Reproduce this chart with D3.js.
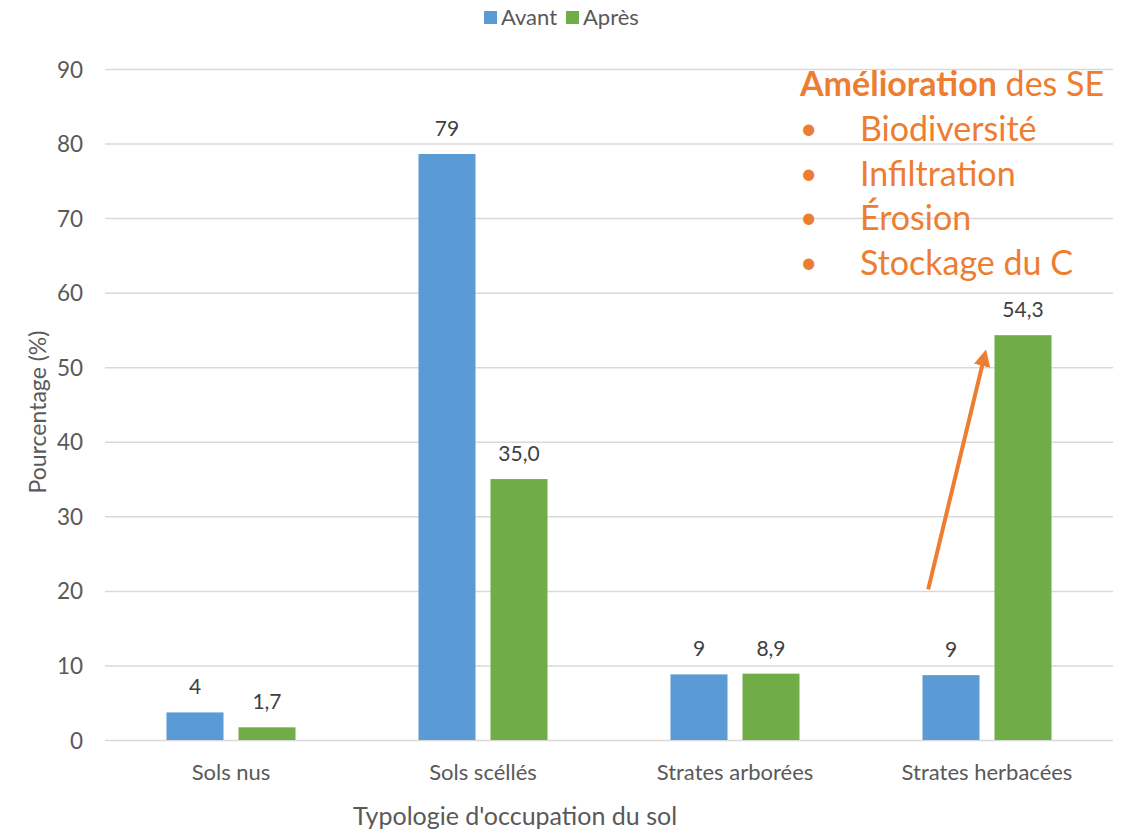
<!DOCTYPE html>
<html>
<head>
<meta charset="utf-8">
<script src="https://cdn.jsdelivr.net/npm/d3@7"></script>
<style>
  html, body { margin: 0; padding: 0; background: #fff; }
  svg { display: block; font-family: Lato, "Open Sans", sans-serif; }
</style>
</head>
<body>
<svg id="chart" width="1130" height="832"></svg>
<script>
const categories = ["Sols nus", "Sols scéllés", "Strates arborées", "Strates herbacées"];
const seriesNames = ["Avant", "Après"];
const avant = [3.7, 78.6, 8.8, 8.7];
const apres = [1.7, 35.0, 8.9, 54.3];
const yTicks = [0, 10, 20, 30, 40, 50, 60, 70, 80, 90];
const colors = ["#5B9BD5", "#70AD47"];
const annotationTitleBold = "Amélioration";
const annotationTitleRest = " des SE";
const annotationItems = ["Biodiversité", "Infiltration", "Érosion", "Stockage du C"];
const arrowFromValue = 20.2;
const arrowToValue = 54.3;

const FONT = 'Lato, "Open Sans", sans-serif';
const svg = d3.select("#chart");
const margin = {left: 105, right: 17, top: 69, bottom: 92};
const W = 1130, H = 832;
const x0 = d3.scaleBand().domain(categories).range([margin.left, W - margin.right]);
const y = d3.scaleLinear().domain([0, 90]).range([H - margin.bottom, margin.top]);
const bw = x0.bandwidth();
const innerW = 129;
const x1 = d3.scaleBand().domain(seriesNames).range([(bw - innerW) / 2, (bw + innerW) / 2]).paddingInner(15 / 72).paddingOuter(0);

// grid + y axis
const yAxis = d3.axisLeft(y).tickValues(yTicks).tickSize(-(W - margin.left - margin.right)).tickPadding(22).tickFormat(d3.format("d"));
const gy = svg.append("g").attr("transform", `translate(${margin.left},0)`).call(yAxis)
  .attr("font-family", FONT).attr("font-size", 22.5);
gy.select(".domain").remove();
gy.selectAll(".tick line").attr("stroke", "#d9d9d9").attr("stroke-width", 1.5);
gy.selectAll(".tick text").attr("fill", "#595959").attr("dy", "0.36em");

// x axis labels
const xAxis = d3.axisBottom(x0).tickSize(0).tickPadding(0);
const gx = svg.append("g").attr("transform", `translate(0,${y(0)})`).call(xAxis)
  .attr("font-family", FONT).attr("font-size", 22);
gx.select(".domain").remove();
gx.selectAll(".tick text").attr("fill", "#595959").attr("dy", null).attr("y", 40);

const data = categories.map((c, i) => ({cat: c, vals: [
  {s: "Avant", v: avant[i], label: d3.format(".0f")(avant[i])},
  {s: "Après", v: apres[i], label: d3.format(".1f")(apres[i]).replace(".", ",")}
]}));

const groups = svg.append("g").selectAll("g").data(data).join("g")
  .attr("transform", d => `translate(${x0(d.cat)},0)`);
groups.selectAll("rect").data(d => d.vals).join("rect")
  .attr("x", d => x1(d.s)).attr("width", x1.bandwidth())
  .attr("y", d => y(d.v)).attr("height", d => y(0) - y(d.v))
  .attr("fill", (d, i) => colors[i]);
groups.selectAll("text").data(d => d.vals).join("text")
  .attr("x", d => x1(d.s) + x1.bandwidth() / 2)
  .attr("y", d => y(d.v) - 18)
  .attr("text-anchor", "middle").attr("fill", "#404040").attr("font-size", 21)
  .text(d => d.label);

// legend
const legend = svg.append("g").attr("transform", "translate(484,0)");
const legX = [0, 82];
seriesNames.forEach((s, i) => {
  legend.append("rect").attr("x", legX[i]).attr("y", 11).attr("width", 13).attr("height", 13).attr("fill", colors[i]);
  legend.append("text").attr("x", legX[i] + 17).attr("y", 25).attr("fill", "#595959").attr("font-size", 22).text(s);
});

// axis titles
svg.append("text").attr("x", 515).attr("y", 825).attr("text-anchor", "middle")
  .attr("fill", "#595959").attr("font-size", 25).text("Typologie d'occupation du sol");
svg.append("text").attr("transform", `translate(46,412) rotate(-90)`).attr("text-anchor", "middle")
  .attr("fill", "#595959").attr("font-size", 23).text("Pourcentage (%)");

// annotation
const orange = "#ED7D31";
const ann = svg.append("g");
const t = ann.append("text").attr("x", 800).attr("y", 96).attr("fill", orange).attr("font-size", 34);
t.append("tspan").attr("font-weight", "bold").text(annotationTitleBold);
t.append("tspan").text(annotationTitleRest);
annotationItems.forEach((it, i) => {
  const yy = 141 + i * 44.7;
  ann.append("text").attr("x", 800).attr("y", yy - 2).attr("fill", orange).attr("font-size", 30).text("•");
  ann.append("text").attr("x", 860).attr("y", yy).attr("fill", orange).attr("font-size", 34).text(it);
});

// arrow
const defs = svg.append("defs");
defs.append("marker").attr("id", "ah").attr("viewBox", "0 0 10 10").attr("refX", 1).attr("refY", 5)
  .attr("markerWidth", 4.2).attr("markerHeight", 4.2).attr("orient", "auto").attr("markerUnits", "strokeWidth")
  .append("path").attr("d", "M0,0 L10,5 L0,10 z").attr("fill", orange);
const herb = categories[3];
const fx = x0(herb) + x1("Avant") + x1.bandwidth() * 0.1;
const tx = x0(herb) + x1("Après") - 12;
svg.append("line")
  .attr("x1", fx).attr("y1", y(arrowFromValue))
  .attr("x2", tx).attr("y2", y(arrowToValue) + 29)
  .attr("stroke", orange).attr("stroke-width", 4).attr("marker-end", "url(#ah)");
</script>
</body>
</html>
